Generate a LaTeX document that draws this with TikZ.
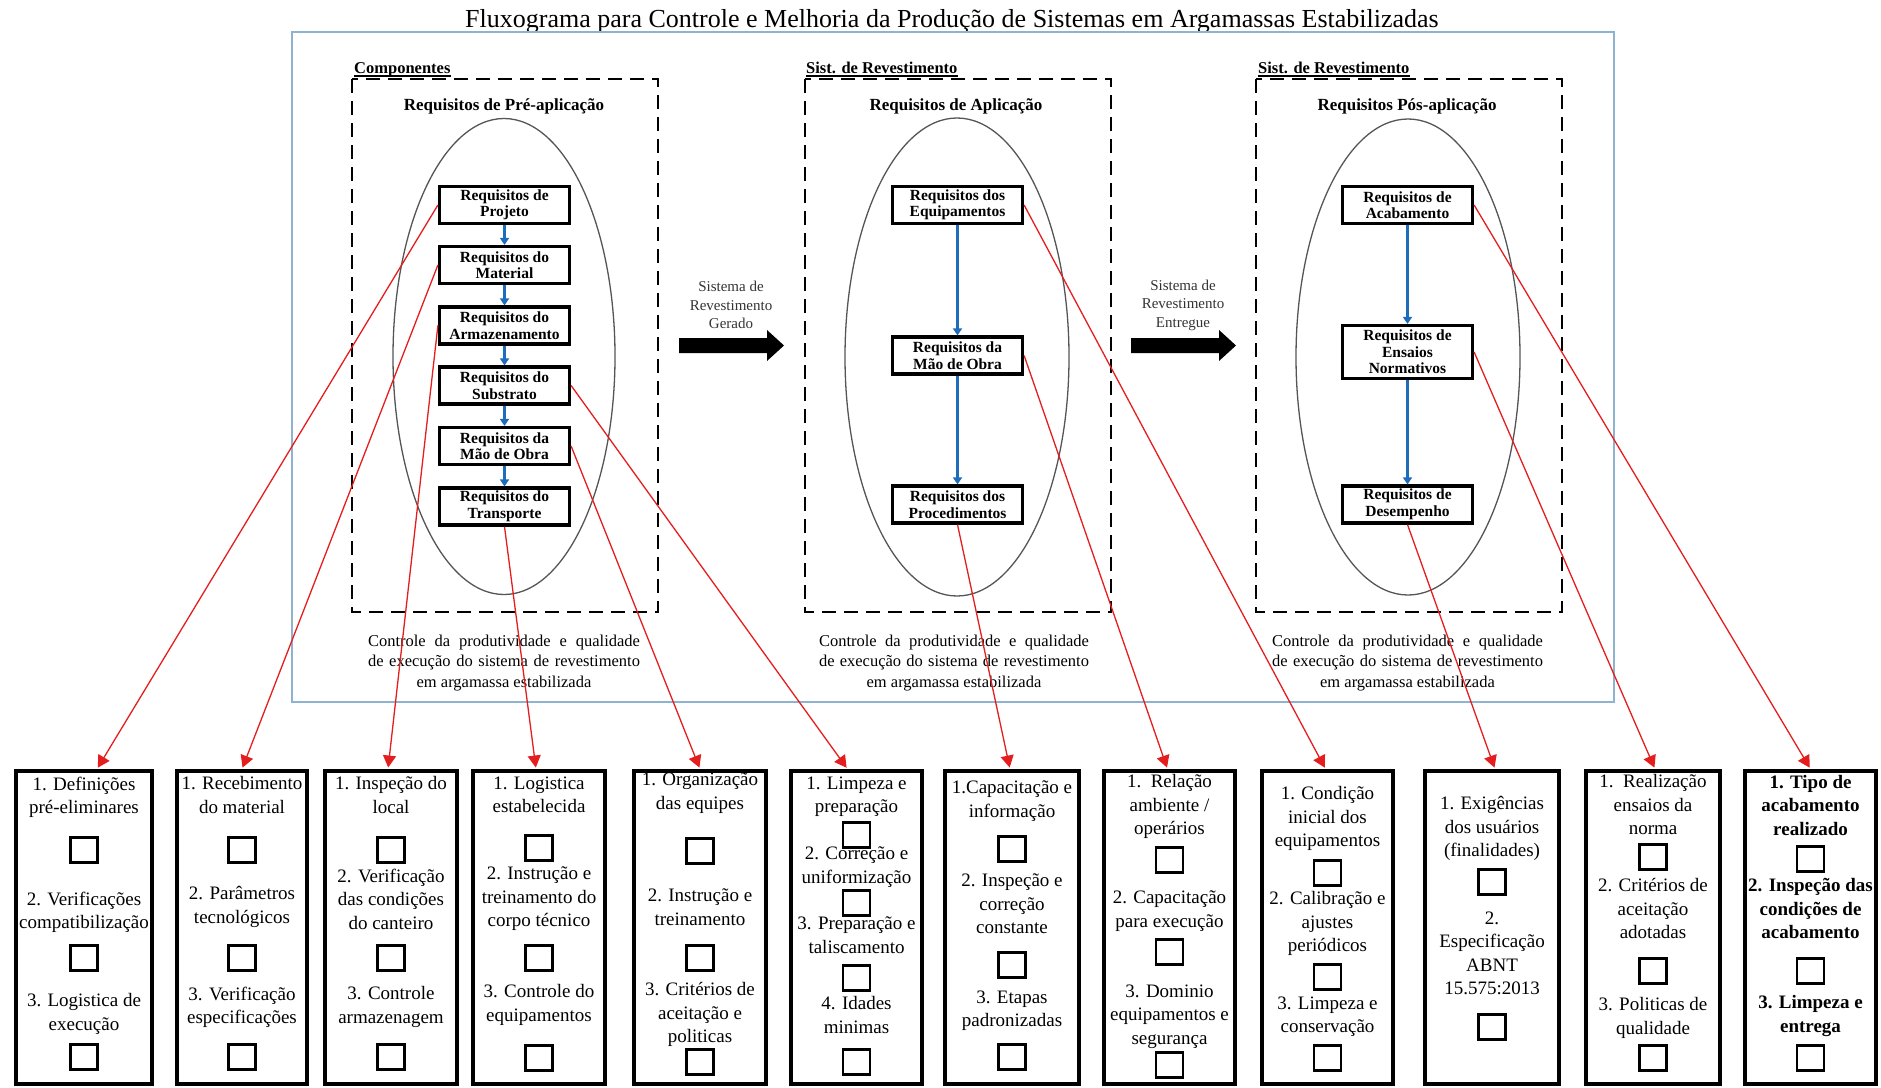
\documentclass[tikz,border=0pt]{standalone}
\usepackage{fontspec}
\setmainfont{Liberation Serif}
\usetikzlibrary{arrows.meta}
\definecolor{framebl}{RGB}{143,179,206}
\definecolor{flowbl}{RGB}{31,109,186}
\definecolor{linkred}{RGB}{228,30,30}
\definecolor{ellgray}{RGB}{85,85,85}

\newcommand\chkitem[4]{\node[itemtxt] (#1) at (#2,#3) {#4};}
\newcommand\chkitemb[4]{\node[itemtxt,font=\bfseries\fontsize{19}{23.5}\selectfont] (#1) at (#2,#3) {#4};}
\newcommand\chksq[3]{\node[tick] (#1) at (#2,#3) {};}

\begin{document}
\begin{tikzpicture}[x=1pt,y=-1pt,
  reqbox/.style={draw=black, line width=3.2pt, minimum width=130pt, minimum height=37pt,
    inner sep=0pt, align=center, font=\bfseries\fontsize{15.5}{16.5}\selectfont},
  flow/.style={draw=flowbl, line width=2.5pt, -{Triangle[width=9pt,length=7pt]}},
  redlink/.style={draw=linkred, line width=1.3pt, shorten >=1.5pt, -{Triangle[width=13pt,length=12pt]}},
  phase/.style={draw=black, line width=2.6pt, dash pattern=on 14pt off 8pt},
  head/.style={inner sep=0pt, font=\bfseries\fontsize{17}{20}\selectfont},
  tag/.style={inner sep=0pt, anchor=base west, font=\bfseries\fontsize{16.5}{19}\selectfont},
  trans/.style={inner sep=0pt, align=center, text=black!80, font=\fontsize{15}{18.5}\selectfont},
  ctrltxt/.style={inner sep=0pt, align=center, font=\fontsize{16.5}{20.5}\selectfont},
  chkframe/.style={draw=black, line width=4pt, minimum height=313pt, inner sep=0pt},
  itemtxt/.style={anchor=north, inner sep=0pt, align=center,
    font=\fontsize{19}{23.5}\selectfont, execute at begin node=\strut},
  tick/.style={draw=black, line width=2.2pt, minimum width=27pt, minimum height=25pt, inner sep=0pt}]

\useasboundingbox (0,0) rectangle (1881,1087);

% title
\node[inner sep=0pt, anchor=base, font=\fontsize{26}{30}\selectfont] (title) at (952,27)
  {Fluxograma para Controle e Melhoria da Produção de Sistemas em Argamassas Estabilizadas};

% outer frame
\draw[framebl, line width=2pt] (292,32) rectangle (1614,702);

% three phases: dashed frames and ellipses
\draw[phase] (352,79) rectangle (658,612);
\draw[phase] (805,79) rectangle (1111,612);
\draw[phase] (1256,79) rectangle (1562,612);
\draw[ellgray, line width=1.3pt] (504,356.5) ellipse (111 and 238);
\draw[ellgray, line width=1.3pt] (957,357) ellipse (112 and 239);
\draw[ellgray, line width=1.3pt] (1408,357) ellipse (112 and 238);

% phase tags (underlined)
\node[tag] (tag1) at (354,73) {Componentes};
\node[tag] (tag2) at (806,73) {Sist. de Revestimento};
\node[tag] (tag3) at (1258,73) {Sist. de Revestimento};
\foreach \t in {tag1,tag2,tag3}
  \draw[line width=1.1pt] ([yshift=-3pt]\t.base west) -- ([yshift=-3pt]\t.base east);

% headings
\node[head] (h1) at (504,106.5) {Requisitos de Pré-aplicação};
\node[head] (h2) at (956,106.5) {Requisitos de Aplicação};
\node[head] (h3) at (1407,106.5) {Requisitos Pós-aplicação};

% requirement boxes, phase 1
\node[reqbox] (rProj) at (504.5,205) {Requisitos de\\Projeto};
\node[reqbox] (rMat) at (504.5,265) {Requisitos do\\Material};
\node[reqbox] (rArm) at (504.5,325.5) {Requisitos do\\Armazenamento};
\node[reqbox] (rSub) at (504.5,385.5) {Requisitos do\\Substrato};
\node[reqbox] (rMao) at (504.5,446) {Requisitos da\\Mão de Obra};
\node[reqbox] (rTra) at (504.5,506.5) {Requisitos do\\Transporte};
% phase 2
\node[reqbox] (rEqu) at (957.5,205) {Requisitos dos\\Equipamentos};
\node[reqbox] (rMao2) at (957.5,355.5) {Requisitos da\\Mão de Obra};
\node[reqbox] (rPro) at (957.5,504.5) {Requisitos dos\\Procedimentos};
% phase 3
\node[reqbox] (rAca) at (1407.5,205) {Requisitos de\\Acabamento};
\node[reqbox, minimum height=53pt] (rEns) at (1407.5,352) {Requisitos de\\Ensaios\\Normativos};
\node[reqbox] (rDes) at (1407.5,504.5) {Requisitos de\\Desempenho};

% flow inside each phase
\draw[flow] (rProj) -- (rMat);
\draw[flow] (rMat) -- (rArm);
\draw[flow] (rArm) -- (rSub);
\draw[flow] (rSub) -- (rMao);
\draw[flow] (rMao) -- (rTra);
\draw[flow] (rEqu) -- (rMao2);
\draw[flow] (rMao2) -- (rPro);
\draw[flow] (rAca) -- (rEns);
\draw[flow] (rEns) -- (rDes);

% transitions between phases
\node[trans] (t1) at (731,305) {Sistema de\\Revestimento\\Gerado};
\node[trans] (t2) at (1183,305) {Sistema de\\Revestimento\\Entregue};
\fill (679,338) -- (767,338) -- (767,330) -- (784,345.5) -- (767,361) -- (767,353) -- (679,353) -- cycle;
\fill (1131,338) -- (1219,338) -- (1219,330) -- (1236,345.5) -- (1219,361) -- (1219,353) -- (1131,353) -- cycle;

% control notes
\node[ctrltxt] (n1) at (504,663) {\makebox[272pt][s]{Controle da produtividade e qualidade}\\
  \makebox[272pt][s]{de execução do sistema de revestimento}\\em argamassa estabilizada};
\node[ctrltxt] (n2) at (954,663) {\makebox[270pt][s]{Controle da produtividade e qualidade}\\
  \makebox[270pt][s]{de execução do sistema de revestimento}\\em argamassa estabilizada};
\node[ctrltxt] (n3) at (1407.5,663) {\makebox[271pt][s]{Controle da produtividade e qualidade}\\
  \makebox[271pt][s]{de execução do sistema de revestimento}\\em argamassa estabilizada};

% checklist frames
\node[chkframe, minimum width=136pt] (c1) at (84,927.5) {};
\node[chkframe, minimum width=130pt] (c2) at (242,927.5) {};
\node[chkframe, minimum width=132pt] (c3) at (391,927.5) {};
\node[chkframe, minimum width=132pt] (c4) at (539,927.5) {};
\node[chkframe, minimum width=132pt] (c5) at (700,927.5) {};
\node[chkframe, minimum width=131pt] (c6) at (856.5,927.5) {};
\node[chkframe, minimum width=134pt] (c7) at (1012,927.5) {};
\node[chkframe, minimum width=131pt] (c8) at (1169.5,927.5) {};
\node[chkframe, minimum width=131pt] (c9) at (1327.5,927.5) {};
\node[chkframe, minimum width=134pt] (c10) at (1492,927.5) {};
\node[chkframe, minimum width=134pt] (c11) at (1653,927.5) {};
\node[chkframe, minimum width=131pt] (c12) at (1810.5,927.5) {};

% checklist 1
\chkitem{c1t1}{84}{776.5}{1. Definições\\pré-eliminares}
\chksq{c1s1}{84}{850}
\chkitem{c1t2}{84}{891.5}{2. Verificações\\compatibilização}
\chksq{c1s2}{84}{958}
\chkitem{c1t3}{84}{993.5}{3. Logistica de\\execução}
\chksq{c1s3}{84}{1057}
% checklist 2
\chkitem{c2t1}{242}{776.5}{1. Recebimento\\do material}
\chksq{c2s1}{242}{850}
\chkitem{c2t2}{242}{886.5}{2. Parâmetros\\tecnológicos}
\chksq{c2s2}{242}{958}
\chkitem{c2t3}{242}{986.5}{3. Verificação\\especificações}
\chksq{c2s3}{242}{1057}
% checklist 3
\chkitem{c3t1}{391}{776.5}{1. Inspeção do\\local}
\chksq{c3s1}{391}{850}
\chkitem{c3t2}{391}{868.5}{2. Verificação\\das condições\\do canteiro}
\chksq{c3s2}{391}{958}
\chkitem{c3t3}{391}{986.5}{3. Controle\\armazenagem}
\chksq{c3s3}{391}{1057}
% checklist 4
\chkitem{c4t1}{539}{776.5}{1. Logistica\\estabelecida}
\chksq{c4s1}{539}{848}
\chkitem{c4t2}{539}{866.5}{2. Instrução e\\treinamento do\\corpo técnico}
\chksq{c4s2}{539}{958}
\chkitem{c4t3}{539}{984.5}{3. Controle do\\equipamentos}
\chksq{c4s3}{539}{1058}
% checklist 5
\chkitem{c5t1}{700}{772.5}{1. Organização\\das equipes}
\chksq{c5s1}{700}{851}
\chkitem{c5t2}{700}{888.5}{2. Instrução e\\treinamento}
\chksq{c5s2}{700}{958}
\chkitem{c5t3}{700}{982.5}{3. Critérios de\\aceitação e\\politicas}
\chksq{c5s3}{700}{1062}
% checklist 6
\chkitem{c6t1}{856.5}{776.5}{1. Limpeza e\\preparação}
\chksq{c6s1}{856.5}{835}
\chkitem{c6t2}{856.5}{846.5}{2. Correção e\\uniformização}
\chksq{c6s2}{856.5}{903}
\chkitem{c6t3}{856.5}{916.5}{3. Preparação e\\taliscamento}
\chksq{c6s3}{856.5}{978}
\chkitem{c6t4}{856.5}{996.5}{4. Idades\\minimas}
\chksq{c6s4}{856.5}{1062}
% checklist 7
\chkitem{c7t1}{1012}{780.5}{1.Capacitação e\\informação}
\chksq{c7s1}{1012}{849}
\chkitem{c7t2}{1012}{873.5}{2. Inspeção e\\correção\\constante}
\chksq{c7s2}{1012}{965}
\chkitem{c7t3}{1012}{990.5}{3. Etapas\\padronizadas}
\chksq{c7s3}{1012}{1057}
% checklist 8
\chkitem{c8t1}{1169.5}{774.5}{1.\ \ Relação\\ambiente /\\operários}
\chksq{c8s1}{1169.5}{860}
\chkitem{c8t2}{1169.5}{890.5}{2. Capacitação\\para execução}
\chksq{c8s2}{1169.5}{952}
\chkitem{c8t3}{1169.5}{984.5}{3. Dominio\\equipamentos e\\segurança}
\chksq{c8s3}{1169.5}{1065}
% checklist 9
\chkitem{c9t1}{1327.5}{786.5}{1. Condição\\inicial dos\\equipamentos}
\chksq{c9s1}{1327.5}{873}
\chkitem{c9t2}{1327.5}{891.5}{2. Calibração e\\ajustes\\periódicos}
\chksq{c9s2}{1327.5}{977}
\chkitem{c9t3}{1327.5}{996.5}{3. Limpeza e\\conservação}
\chksq{c9s3}{1327.5}{1058}
% checklist 10
\chkitem{c10t1}{1492}{796.5}{1. Exigências\\dos usuários\\(finalidades)}
\chksq{c10s1}{1492}{882}
\chkitem{c10t2}{1492}{911.5}{2.\\Especificação\\ABNT\\15.575:2013}
\chksq{c10s2}{1492}{1027}
% checklist 11
\chkitem{c11t1}{1653}{774.5}{1.\ \ Realização\\ensaios da\\norma}
\chksq{c11s1}{1653}{857}
\chkitem{c11t2}{1653}{878.5}{2. Critérios de\\aceitação\\adotadas}
\chksq{c11s2}{1653}{971}
\chkitem{c11t3}{1653}{997.5}{3. Politicas de\\qualidade}
\chksq{c11s3}{1653}{1058}
% checklist 12
\chkitemb{c12t1}{1810.5}{775}{1. Tipo de\\acabamento\\realizado}
\chksq{c12s1}{1810.5}{859}
\chkitemb{c12t2}{1810.5}{878.5}{2. Inspeção das\\condições de\\acabamento}
\chksq{c12s2}{1810.5}{971}
\chkitemb{c12t3}{1810.5}{995.5}{3. Limpeza e\\entrega}
\chksq{c12s3}{1810.5}{1058}

% links from each requirement to its checklist
\draw[redlink] (rProj.west) -- ([xshift=13pt]c1.north);
\draw[redlink] (rMat.west) -- (c2.north);
\draw[redlink] (rArm.west) -- ([xshift=-3pt]c3.north);
\draw[redlink] (rTra.south) -- ([xshift=-3pt]c4.north);
\draw[redlink] (rMao.east) -- (c5.north);
\draw[redlink] (rSub.east) -- ([xshift=-9pt]c6.north);
\draw[redlink] (rPro.south) -- ([xshift=-2pt]c7.north);
\draw[redlink] (rMao2.east) -- ([xshift=-2pt]c8.north);
\draw[redlink] (rEqu.east) -- ([xshift=-2pt]c9.north);
\draw[redlink] (rDes.south) -- ([xshift=3pt]c10.north);
\draw[redlink] (rEns.east) -- ([xshift=2pt]c11.north);
\draw[redlink] (rAca.east) -- (c12.north);

\end{tikzpicture}
\end{document}
